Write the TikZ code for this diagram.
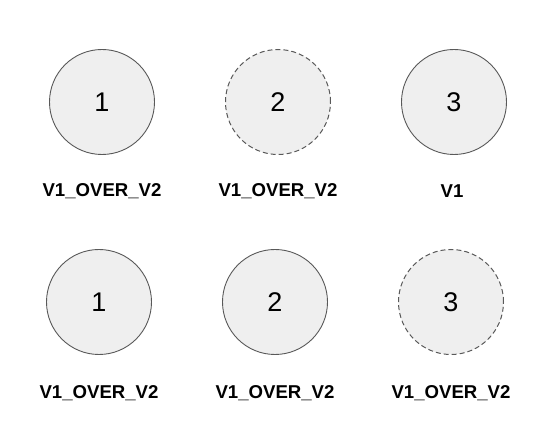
\documentclass[tikz,border=0pt]{standalone}
\usepackage{fontspec}
\setmainfont{Liberation Sans}
\definecolor{discfill}{HTML}{EFEFEF}
\definecolor{discline}{HTML}{595959}
\begin{document}
\begin{tikzpicture}[x=1pt,y=1pt,
  disc/.style={circle,draw=discline,fill=discfill,line width=0.9pt,minimum size=105pt,inner sep=0,font=\fontsize{27}{29}\selectfont},
  ghost/.style={disc,line width=1pt,dash pattern=on 5pt off 3pt},
  tag/.style={font=\fontsize{18.6}{20}\selectfont\bfseries}]
\useasboundingbox (0,0) rectangle (535,435);
\node (a1) [disc] at (102,333) {1};
\node (a2) [ghost] at (278,333) {2};
\node (a3) [disc] at (454,333) {3};
\node (la1) [tag] at (102,244) {V1\_OVER\_V2};
\node (la2) [tag] at (278,244) {V1\_OVER\_V2};
\node (la3) [tag] at (452,244) {V1};

\node (b1) [disc] at (99,133) {1};
\node (b2) [disc] at (275,133) {2};
\node (b3) [ghost] at (451,133) {3};
\node (lb1) [tag] at (99,42) {V1\_OVER\_V2};
\node (lb2) [tag] at (275,42) {V1\_OVER\_V2};
\node (lb3) [tag] at (451,42) {V1\_OVER\_V2};
\end{tikzpicture}
\end{document}
